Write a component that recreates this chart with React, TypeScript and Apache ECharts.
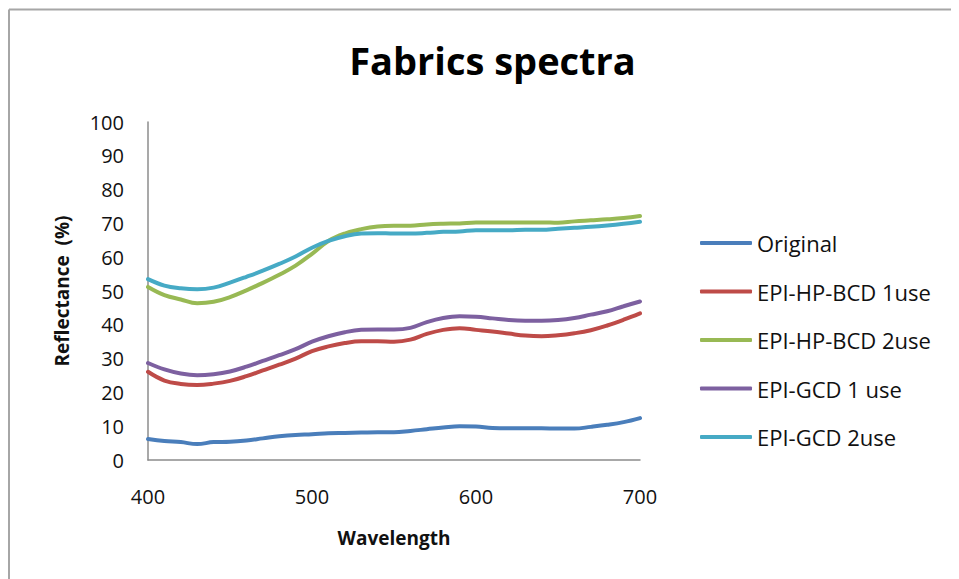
import React, { useEffect, useRef } from "react";
import * as echarts from "echarts";

const wavelengths = [400, 410, 420, 430, 440, 450, 460, 470, 480, 490, 500, 510, 520, 530, 540, 550, 560, 570, 580, 590, 600, 610, 620, 630, 640, 650, 660, 670, 680, 690, 700];

const original = [6.2, 5.6, 5.3, 4.7, 5.3, 5.4, 5.8, 6.4, 7.0, 7.4, 7.6, 7.9, 8.0, 8.1, 8.2, 8.2, 8.6, 9.1, 9.6, 10.0, 9.9, 9.5, 9.4, 9.4, 9.4, 9.3, 9.3, 9.8, 10.4, 11.2, 12.4];
const hpBcd1 = [26.1, 23.5, 22.5, 22.2, 22.6, 23.4, 24.8, 26.5, 28.2, 30.0, 32.2, 33.6, 34.6, 35.1, 35.1, 35.0, 35.6, 37.3, 38.5, 39.0, 38.5, 38.0, 37.4, 36.8, 36.6, 36.9, 37.5, 38.4, 39.8, 41.5, 43.4];
const hpBcd2 = [51.2, 48.8, 47.5, 46.4, 46.8, 48.2, 50.2, 52.4, 54.8, 57.5, 61.0, 64.8, 67.0, 68.3, 69.1, 69.3, 69.3, 69.7, 69.9, 70.0, 70.3, 70.3, 70.3, 70.3, 70.3, 70.2, 70.6, 70.9, 71.2, 71.6, 72.2];
const gcd1 = [28.7, 26.8, 25.6, 25.1, 25.4, 26.2, 27.6, 29.3, 31.0, 32.8, 35.0, 36.6, 37.8, 38.5, 38.6, 38.6, 39.1, 40.8, 42.0, 42.5, 42.4, 41.9, 41.4, 41.2, 41.2, 41.4, 42.0, 43.0, 44.0, 45.5, 46.9];
const gcd2 = [53.5, 51.6, 50.8, 50.5, 51.0, 52.5, 54.2, 56.0, 58.0, 60.2, 62.8, 64.8, 66.2, 67.0, 67.1, 67.0, 67.0, 67.2, 67.5, 67.6, 68.0, 68.0, 68.0, 68.1, 68.1, 68.4, 68.7, 69.0, 69.4, 69.9, 70.5];

const seriesNames = ["Original", "EPI-HP-BCD 1use", "EPI-HP-BCD 2use", "EPI-GCD 1 use", "EPI-GCD 2use"];
const seriesValues = [original, hpBcd1, hpBcd2, gcd1, gcd2];
const seriesColors = ["#4a7ebb", "#be4b48", "#98b954", "#7d60a0", "#46aac5"];

const FONT = "'Open Sans', 'DejaVu Sans', sans-serif";

export default function App() {
  const ref = useRef<HTMLDivElement>(null);
  useEffect(() => {
    if (!ref.current) return;
    const chart = echarts.init(ref.current, undefined, { renderer: "svg" });
    chart.setOption({
      animation: false,
      backgroundColor: "#ffffff",
      title: {
        text: "Fabrics spectra",
        left: 479.5,
        textAlign: "center",
        top: 28,
        textStyle: { fontFamily: FONT, fontSize: 38, fontWeight: "bold", color: "#000" },
      },
      graphic: [
        { type: "line", shape: { x1: 1, y1: 1.5, x2: 960, y2: 1.5 }, style: { stroke: "#a6a6a6", lineWidth: 2 } },
        { type: "line", shape: { x1: 1, y1: 1.5, x2: 1, y2: 580 }, style: { stroke: "#a6a6a6", lineWidth: 2 } },
      ],
      legend: {
        orient: "vertical",
        left: 687,
        top: 219,
        icon: "roundRect",
        itemWidth: 52,
        itemHeight: 4,
        itemGap: 26.5,
        textStyle: { fontFamily: FONT, fontSize: 22, color: "#111", lineHeight: 22 },
        data: seriesNames,
      },
      grid: { left: 140, top: 114, width: 492, height: 338 },
      xAxis: {
        type: "value",
        min: 400,
        max: 700,
        interval: 100,
        name: "Wavelength",
        nameLocation: "middle",
        nameGap: 68,
        nameTextStyle: { fontFamily: FONT, fontSize: 19, fontWeight: "bold", color: "#111" },
        axisLine: { lineStyle: { color: "#8c8c8c", width: 1.5 } },
        axisTick: { show: false },
        splitLine: { show: false },
        axisLabel: { margin: 26, fontFamily: FONT, fontSize: 20, color: "#111" },
      },
      yAxis: {
        type: "value",
        min: 0,
        max: 100,
        interval: 10,
        name: "Reflectance  (%)",
        nameLocation: "middle",
        nameGap: 77,
        nameTextStyle: { fontFamily: FONT, fontSize: 19, fontWeight: "bold", color: "#111" },
        axisLine: { show: true, lineStyle: { color: "#8c8c8c", width: 1.5 } },
        axisTick: { show: false },
        splitLine: { show: false },
        axisLabel: { margin: 24, fontFamily: FONT, fontSize: 20, color: "#111" },
      },
      series: seriesNames.map((name, i) => ({
        name,
        type: "line",
        data: wavelengths.map((w, j) => [w, seriesValues[i][j]]),
        smooth: 0.4,
        showSymbol: false,
        symbol: "none",
        lineStyle: { width: 4, color: seriesColors[i], cap: "round" },
        itemStyle: { color: seriesColors[i] },
      })),
    });
    return () => chart.dispose();
  }, []);
  return <div ref={ref} style={{ width: 951, height: 571 }} />;
}
